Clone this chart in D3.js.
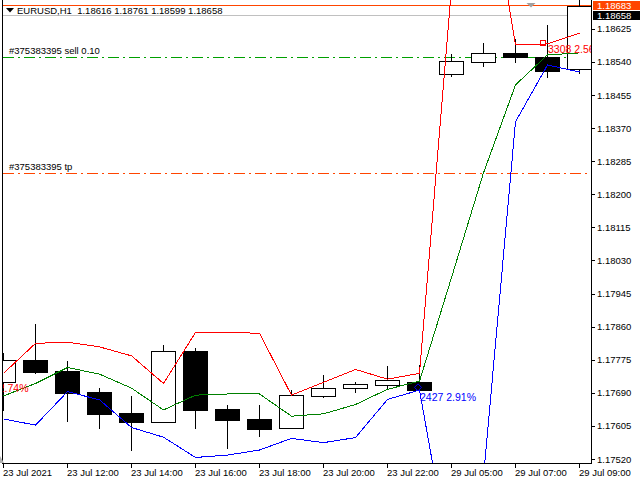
<!DOCTYPE html>
<html><head><meta charset="utf-8">
<script src="https://cdn.jsdelivr.net/npm/d3@7"></script>
<style>
html,body{margin:0;padding:0;background:#fff;overflow:hidden}
svg{display:block}
text{font-family:"Liberation Sans",Arial,sans-serif}
</style>
</head><body>
<svg id="c" width="640" height="480"></svg>
<script>
// ---------------- data ----------------
const times = ["23 Jul 10:00","23 Jul 11:00","23 Jul 12:00","23 Jul 13:00","23 Jul 14:00","23 Jul 15:00",
  "23 Jul 16:00","23 Jul 17:00","23 Jul 18:00","23 Jul 19:00","23 Jul 20:00","23 Jul 21:00","23 Jul 22:00",
  "23 Jul 23:00","29 Jul 05:00","29 Jul 06:00","29 Jul 07:00","29 Jul 08:00","29 Jul 09:00"];
const timeTickIndex = [0,2,4,6,8,10,12,14,16,18];
const timeTickLabels = ["23 Jul 2021","23 Jul 12:00","23 Jul 14:00","23 Jul 16:00","23 Jul 18:00",
  "23 Jul 20:00","23 Jul 22:00","29 Jul 05:00","29 Jul 07:00","29 Jul 09:00"];

const open  = [1.17717,1.17774,1.17746,1.17692,1.17638,1.17614,1.17797,1.17648,1.17623,1.17599,1.17683,1.17702,1.17711,1.17717,1.18508,1.18541,1.18564,1.18553,1.18521];
const high  = [1.17792,1.17867,1.17772,1.17702,1.17682,1.17813,1.17804,1.17659,1.17659,1.17697,1.17736,1.17719,1.17759,1.17761,1.18560,1.18588,1.18598,1.18635,1.18761];
const low   = [1.17646,1.17740,1.17618,1.17600,1.17543,1.17614,1.17600,1.17548,1.17580,1.17599,1.17680,1.17691,1.17702,1.17697,1.18504,1.18530,1.18541,1.18500,1.18512];
const close = [1.17774,1.17744,1.17690,1.17636,1.17616,1.17797,1.17646,1.17621,1.17598,1.17684,1.17702,1.17713,1.17723,1.17697,1.18542,1.18564,1.18552,1.18517,1.18683];

const upperBand  = [1.17740,1.17817,1.17820,1.17808,1.17785,1.17714,1.17845,1.17845,1.17843,1.17684,1.17717,1.17750,1.17725,1.17740,1.18730,1.19077,1.18584,1.18586,1.18614];
const middleBand = [1.17682,1.17714,1.17755,1.17738,1.17702,1.17646,1.17684,1.17687,1.17687,1.17630,1.17636,1.17660,1.17699,1.17720,1.17986,1.18255,1.18481,1.18558,1.18563];
const lowerBand  = [1.17623,1.17607,1.17693,1.17672,1.17601,1.17576,1.17524,1.17530,1.17543,1.17573,1.17562,1.17575,1.17673,1.17697,1.17237,1.17474,1.18386,1.18532,1.18514];

const priceTicks = [1.18625,1.18540,1.18455,1.18370,1.18285,1.18200,1.18115,1.18030,1.17945,1.17860,1.17775,1.17690,1.17605,1.17520];
const askPrice = 1.18683, bidPrice = 1.18658;
const orderPrices = [1.18553, 1.18255];
const orderLabels = ["#375383395 sell 0.10", "#375383395 tp"];
const orderColors = ["#00a000", "#ff4500"];
const headerText = "EURUSD,H1  1.18616 1.18761 1.18599 1.18658";

const noteIndex = [-1, 13, 17];
const noteTexts = ["2.74%", "2427 2.91%", "3308 2.56%"];
const notePrices = [1.17693, 1.17668, 1.18562];
const noteColors = ["#ff0000", "#0000ff", "#ff0000"];
const markerIndex = [13, 17];
const markerPrices = [1.17704, 1.18588];

// ---------------- drawing ----------------
const svg = d3.select("#c");
const x = d3.scaleLinear().domain([0, 18]).range([3, 579]);
const y = d3.scaleLinear().domain([1.17520, 1.18625]).range([459, 28.8]);
const px = i => Math.round(x(i));
const py = p => Math.round(y(p));

svg.append("defs").append("clipPath").attr("id","plot")
  .append("rect").attr("x",3).attr("y",0).attr("width",589).attr("height",463);

const plot = svg.append("g").attr("clip-path","url(#plot)");

// ask / bid lines
plot.append("rect").attr("x",0).attr("width",592).attr("y",py(askPrice)-1).attr("height",1)
  .attr("fill","#ff4500");
plot.append("rect").attr("x",0).attr("width",592).attr("y",py(bidPrice)-1).attr("height",1)
  .attr("fill","#c0c0c0");

// order lines (dash-dot drawn as explicit segments)
orderPrices.forEach((p,k)=>{
  const yy = py(p);
  const segs = [];
  for (let s = 3; s < 592; s += 21) { segs.push([s, 11]); segs.push([s + 15, 2]); }
  plot.append("g").selectAll("rect").data(segs).join("rect")
    .attr("x",d=>d[0]).attr("width",d=>d[1]).attr("y",yy).attr("height",1)
    .attr("fill",orderColors[k]);
  plot.append("text").attr("x",9).attr("y",yy-3).attr("font-size",9.5).attr("fill","#000")
    .text(orderLabels[k]);
});

// candles
const idx = d3.range(open.length);
const candles = plot.append("g").attr("shape-rendering","crispEdges");
candles.selectAll("line.wick").data(idx).join("line").attr("class","wick")
  .attr("x1",i=>px(i)+0.5).attr("x2",i=>px(i)+0.5)
  .attr("y1",i=>py(high[i])).attr("y2",i=>py(low[i])+1)
  .attr("stroke","#000");
candles.selectAll("rect.body").data(idx).join("rect").attr("class","body")
  .attr("x",i=>px(i)-12+0.5).attr("width",24)
  .attr("y",i=>py(Math.max(open[i],close[i]))+0.5)
  .attr("height",i=>Math.max(1, py(Math.min(open[i],close[i])) - py(Math.max(open[i],close[i]))))
  .attr("fill",i=>close[i]>=open[i] ? "#fff" : "#000")
  .attr("stroke","#000");

// bands
const line = d3.line().x((d,i)=>px(i)+0.5).y(d=>y(d));
[[upperBand,"#ff0000"],[middleBand,"#008000"],[lowerBand,"#0000ff"]].forEach(([arr,col])=>{
  plot.append("path").attr("d",line(arr)).attr("fill","none").attr("stroke",col)
    .attr("stroke-width",1).attr("shape-rendering","crispEdges");
});

// trade markers
plot.append("path")
  .attr("d",`M${px(markerIndex[0])-1},${y(markerPrices[0])-3.5} l3.5,3.5 l-3.5,3.5 l-3.5,-3.5 Z`)
  .attr("fill","none").attr("stroke","#0000ff");
plot.append("rect").attr("x",px(markerIndex[1])-6.5).attr("y",py(markerPrices[1])-2.5)
  .attr("width",5).attr("height",5).attr("fill","none").attr("stroke","#ff0000")
  .attr("shape-rendering","crispEdges");

// notes
noteTexts.forEach((t,k)=>{
  const i = noteIndex[k];
  const tx = plot.append("text").attr("y",y(notePrices[k])).attr("font-size",10.5)
    .attr("fill",noteColors[k]).text(t);
  if (i < 0) tx.attr("x", px(0)+25.5).attr("text-anchor","end");
  else tx.attr("x", px(i)+1);
});

// borders
svg.append("rect").attr("x",2).attr("y",0).attr("width",1).attr("height",464).attr("fill","#000");

// right axis
svg.append("rect").attr("x",591).attr("y",0).attr("width",1).attr("height",464).attr("fill","#000");
const ya = svg.append("g").attr("transform","translate(591.5,0)")
  .call(d3.axisRight(y).tickValues(priceTicks).tickFormat(d3.format(".5f")).tickSize(3).tickPadding(2.5));
ya.select(".domain").remove();
ya.selectAll("line").attr("shape-rendering","crispEdges");
ya.selectAll("text").attr("font-family","Liberation Sans, Arial, sans-serif").attr("font-size",9.5);

// price labels (ask / bid)
[[askPrice,"#ff4500"],[bidPrice,"#000"]].forEach(([p,col])=>{
  const cy = py(p);
  svg.append("rect").attr("x",593).attr("y",cy-5).attr("width",47).attr("height",9).attr("fill",col);
  svg.append("text").attr("x",597).attr("y",cy).attr("dy","0.32em").attr("font-size",9.5)
    .attr("fill","#fff").text(d3.format(".5f")(p));
});

// bottom axis
svg.append("rect").attr("x",2).attr("y",463).attr("width",590).attr("height",1).attr("fill","#000");
const xa = svg.append("g").attr("transform","translate(0,463.5)")
  .call(d3.axisBottom(x).tickValues(timeTickIndex).tickFormat((d,k)=>timeTickLabels[k]).tickSize(4).tickSizeOuter(0));
xa.select(".domain").remove();
xa.selectAll(".tick").attr("transform",d=>`translate(${px(d)+0.5},0)`);
xa.selectAll("line").attr("shape-rendering","crispEdges");
xa.selectAll("text").attr("font-family","Liberation Sans, Arial, sans-serif").attr("font-size",9.5)
  .attr("text-anchor","start").attr("x",-0.5).attr("y",12).attr("dy",0);

// header
svg.append("path").attr("d","M6,8 L14,8 L10,12.5 Z").attr("fill","#000");
svg.append("text").attr("x",17).attr("y",13.5).attr("font-size",9.5).attr("fill","#000")
  .style("white-space","pre").text(headerText);

// chart-shift marker
svg.append("path").attr("d","M526.5,3 L535.5,3 L531,7.5 Z").attr("fill","#a0a0a0");
svg.append("path").attr("d","M0,456 L0,463 L4,463 Z").attr("fill","#b0b0b0");
</script>
</body></html>
